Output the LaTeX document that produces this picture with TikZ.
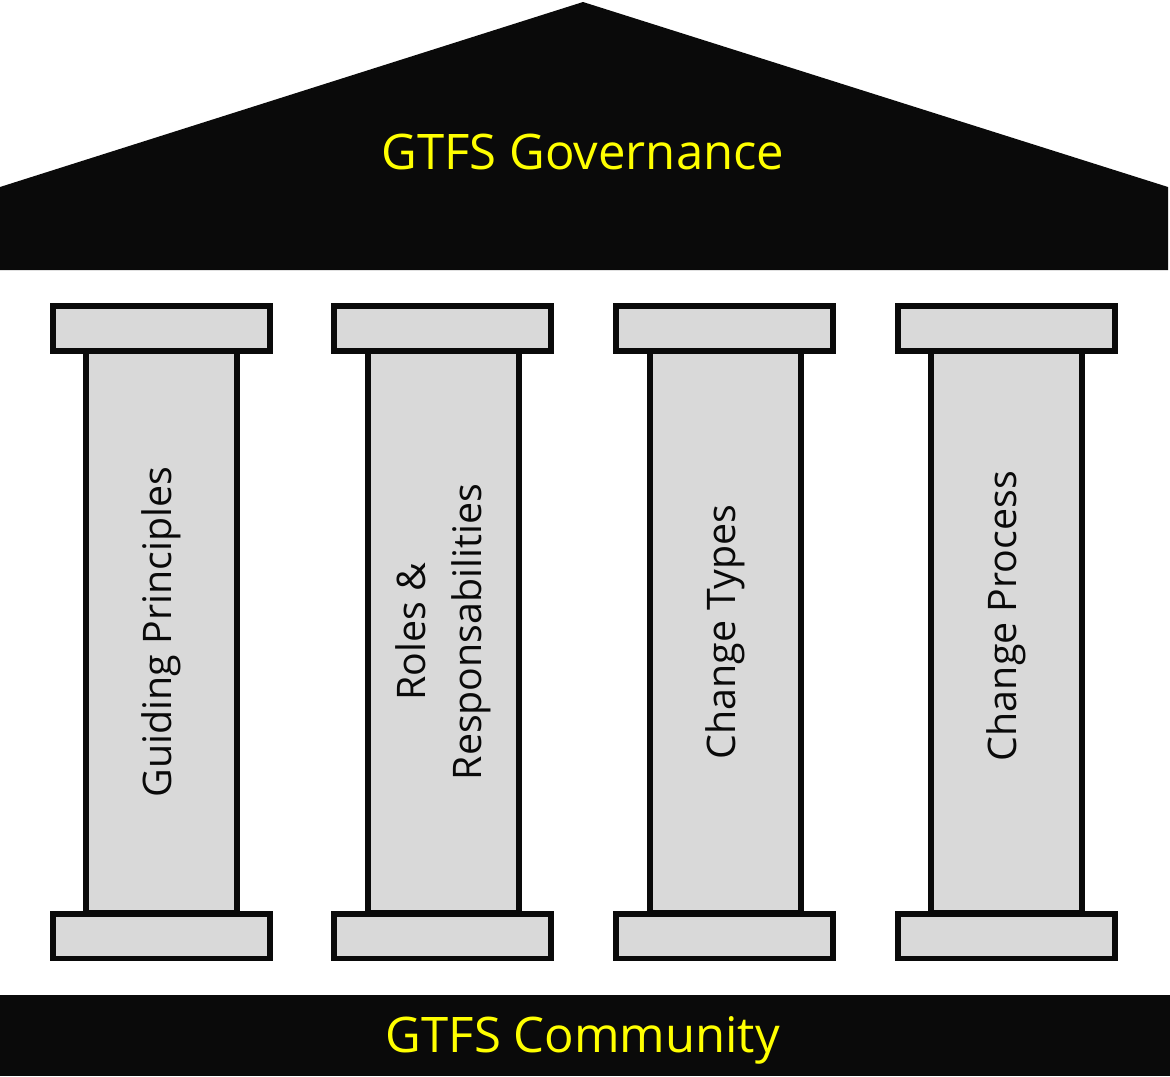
\documentclass[tikz,border=0pt]{standalone}
\usepackage{fontspec}
\setmainfont{Open Sans}
\usetikzlibrary{positioning}
\definecolor{HouseBlack}{HTML}{0A0A0A}
\definecolor{PillarGray}{HTML}{D9D9D9}
\definecolor{TitleYellow}{HTML}{FFFF00}

\begin{document}
\begin{tikzpicture}[x=0.02cm,y=-0.02cm,
      capbox/.style={draw=HouseBlack,fill=PillarGray,line width=3.4pt,
                  minimum width=4.34cm,minimum height=0.9cm,inner sep=0pt},
      shaft/.style={draw=HouseBlack,fill=PillarGray,line width=3.4pt,
                    minimum width=3.02cm,minimum height=11.24cm,inner sep=0pt},
      lbl/.style={rotate=90,align=center,font=\fontsize{22.4}{32}\selectfont,
                  text=HouseBlack,inner sep=0pt},
      title/.style={font=\fontsize{27.9}{32}\selectfont,text=TitleYellow,inner sep=0pt}]
    \useasboundingbox (0,0) rectangle (1170,1076);
    % roof and floor
    \fill[HouseBlack] (0,187) -- (583,2) -- (1168,187) -- (1168,270) -- (0,270) -- cycle;
    \fill[HouseBlack] (0,995) rectangle (1170,1076);
    \node[title] (gov) at (583,152)  {GTFS Governance};
    \node[title] (com) at (583,1040) {GTFS Community};
    % pillars
    \node[shaft] (gp)  at (161.5,632) {};
    \node[shaft] (rr)  at (443.5,632) {};
    \node[shaft] (ct)  at (725.5,632) {};
    \node[shaft] (cp)  at (1006.5,632) {};
    \node[capbox] (gpTop) at (161.5,328.5) {};
    \node[capbox] (rrTop) at (442.5,328.5) {};
    \node[capbox] (ctTop) at (724.5,328.5) {};
    \node[capbox] (cpTop) at (1006.5,328.5) {};
    \node[capbox] (gpBase) at (161.5,936) {};
    \node[capbox] (rrBase) at (442.5,936) {};
    \node[capbox] (ctBase) at (724.5,936) {};
    \node[capbox] (cpBase) at (1006.5,936) {};
    \node[lbl] (gpTxt) at (gp.center) {Guiding Principles};
    \node[lbl] (rrTxt) at (rr.center) {Roles \&\\Responsabilities};
    \node[lbl] (ctTxt) at (ct.center) {Change Types};
    \node[lbl] (cpTxt) at ([yshift=0.32cm]cp.center) {Change Process};
  \end{tikzpicture}
\end{document}
